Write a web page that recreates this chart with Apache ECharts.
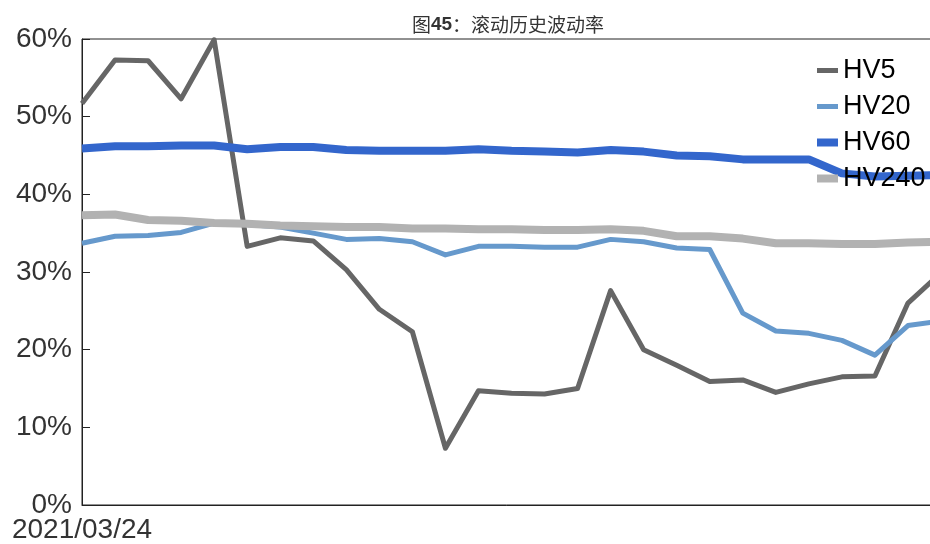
<!DOCTYPE html>
<html>
<head>
<meta charset="utf-8">
<script src="https://cdn.jsdelivr.net/npm/echarts@6/dist/echarts.min.js"></script>
<style>
html,body{margin:0;padding:0;background:#fff;}
#c{width:930px;height:544px;}
</style>
</head>
<body>
<div id="c"></div>
<script>
var categories = ['2021/03/24','2021/03/25','2021/03/26','2021/03/29','2021/03/30','2021/03/31','2021/04/01','2021/04/02','2021/04/06','2021/04/07','2021/04/08','2021/04/09','2021/04/12','2021/04/13','2021/04/14','2021/04/15','2021/04/16','2021/04/19','2021/04/20','2021/04/21','2021/04/22','2021/04/23','2021/04/26','2021/04/27','2021/04/28','2021/04/29','2021/04/30'];
var hv5 = [51.7, 57.3, 57.2, 52.3, 59.9, 33.3, 34.4, 34.0, 30.3, 25.2, 22.3, 7.3, 14.7, 14.4, 14.3, 15.0, 27.6, 20.0, 18.0, 15.9, 16.1, 14.5, 15.6, 16.5, 16.6, 26.0, 29.9];
var hv20 = [33.7, 34.6, 34.7, 35.1, 36.3, 36.1, 35.8, 35.0, 34.2, 34.3, 33.9, 32.2, 33.3, 33.3, 33.2, 33.2, 34.2, 33.9, 33.1, 32.9, 24.7, 22.4, 22.1, 21.2, 19.3, 23.1, 23.7];
var hv60 = [45.9, 46.2, 46.2, 46.3, 46.3, 45.8, 46.1, 46.1, 45.7, 45.6, 45.6, 45.6, 45.8, 45.6, 45.5, 45.4, 45.7, 45.5, 45.0, 44.9, 44.5, 44.5, 44.5, 42.7, 42.3, 42.4, 42.5];
var hv240 = [37.3, 37.4, 36.7, 36.6, 36.3, 36.2, 36.0, 35.9, 35.8, 35.8, 35.6, 35.6, 35.5, 35.5, 35.4, 35.4, 35.5, 35.3, 34.6, 34.6, 34.3, 33.7, 33.7, 33.6, 33.6, 33.8, 33.9];
var seriesNames = ['HV5', 'HV20', 'HV60', 'HV240'];
var yTicks = [0, 10, 20, 30, 40, 50, 60];

var chart = echarts.init(document.getElementById('c'), null, {renderer: 'canvas'});
var FONT = '"Liberation Sans", Arial, sans-serif';
function mk(name, data, color, width) {
  return {
    name: name, type: 'line', data: data, symbol: 'none', showSymbol: false,
    lineStyle: {color: color, width: width, join: 'round'},
    itemStyle: {color: color},
    emphasis: {disabled: true}, animation: false
  };
}
var thin = 'path://M0,0H21V5H0Z';
var thick = 'path://M0,0H21V8H0Z';
chart.setOption({
  animation: false,
  title: {
    text: '{a|图}{b|45}{a|：滚动历史波动率}',
    left: 503, top: 10, textAlign: 'center',
    textStyle: {
      fontWeight: 'normal',
      rich: {
        a: {fontFamily: '"Noto Sans CJK SC", sans-serif', fontSize: 19, fontWeight: 'normal', color: '#333'},
        b: {fontFamily: FONT, fontSize: 19, fontWeight: 'bold', color: '#333'}
      }
    }
  },
  legend: {
    data: [
      {name: 'HV5', icon: thin},
      {name: 'HV20', icon: thin},
      {name: 'HV60', icon: thick},
      {name: 'HV240', icon: thick}
    ],
    orient: 'vertical',
    left: 817, top: 57, padding: 0,
    itemWidth: 21, itemHeight: 8, itemGap: 9,
    textStyle: {fontFamily: FONT, fontSize: 27, color: '#000', lineHeight: 26, padding: 0}
  },
  grid: {left: 82, top: 39, width: 859, bottom: 39, outerBoundsMode: 'none', show: true, borderColor: '#222', borderWidth: 1, containLabel: false},
  xAxis: {
    type: 'category', data: categories, boundaryGap: false,
    axisLine: {lineStyle: {color: '#222', width: 1}},
    axisTick: {show: false},
    axisLabel: {
      interval: function (i) { return i === 0; },
      fontFamily: FONT, fontSize: 28, color: '#333', margin: 11
    },
    splitLine: {show: false}
  },
  yAxis: {
    type: 'value', min: yTicks[0], max: yTicks[yTicks.length - 1], interval: 10,
    axisLine: {show: true, lineStyle: {color: '#222', width: 1}},
    axisTick: {show: true, inside: true, length: 8, lineStyle: {color: '#222'}},
    axisLabel: {formatter: '{value}%', fontFamily: FONT, fontSize: 28, color: '#333', margin: 10},
    splitLine: {show: false}
  },
  series: [
    mk('HV5', hv5, '#666666', 5),
    mk('HV20', hv20, '#6699CC', 5),
    mk('HV60', hv60, '#3366CC', 8),
    mk('HV240', hv240, '#B2B2B2', 8)
  ]
});
</script>
</body>
</html>
